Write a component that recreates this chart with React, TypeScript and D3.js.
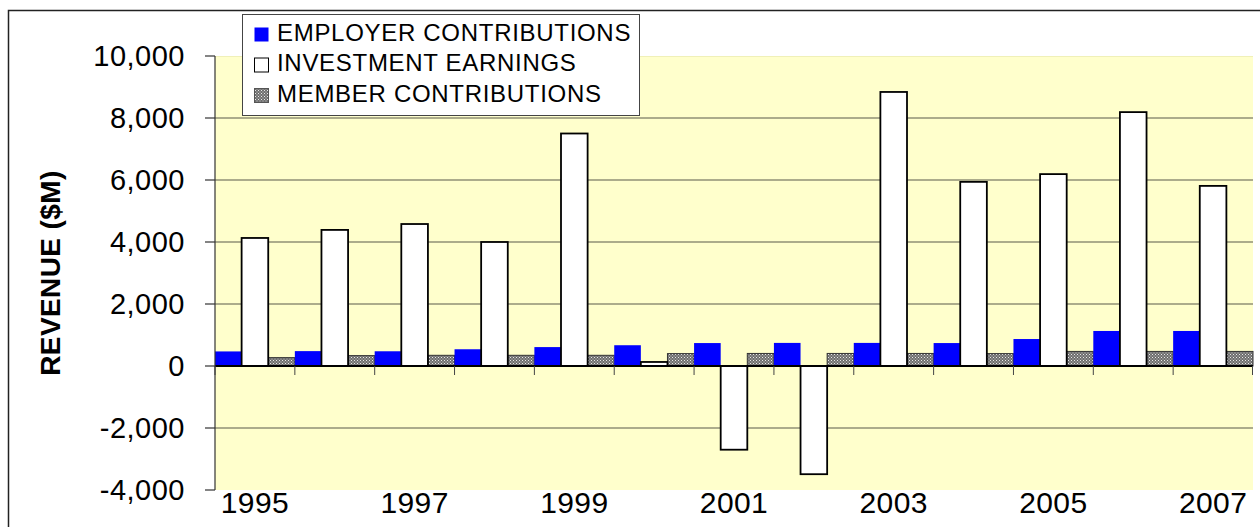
import * as d3 from "d3";

const years = ["1995", "1996", "1997", "1998", "1999", "2000", "2001", "2002", "2003", "2004", "2005", "2006", "2007"];
const employer = [470, 480, 475, 540, 610, 670, 740, 745, 745, 740, 870, 1130, 1130];
const investment = [4130, 4390, 4580, 4000, 7500, 130, -2700, -3490, 8840, 5940, 6190, 8190, 5810];
const member = [270, 335, 345, 345, 345, 400, 405, 405, 405, 400, 470, 470, 470];
const seriesNames = ["EMPLOYER CONTRIBUTIONS", "INVESTMENT EARNINGS", "MEMBER CONTRIBUTIONS"];
const yTicks = [-4000, -2000, 0, 2000, 4000, 6000, 8000, 10000];
const xLabels = ["1995", "1997", "1999", "2001", "2003", "2005", "2007"];

const W = 1260;
const H = 527;
const plot = { left: 215, right: 1253, top: 56, bottom: 490 };
const font = "'Liberation Sans', Arial, sans-serif";

const fmt = d3.formatLocale({ decimal: ".", thousands: ",", grouping: [3], currency: ["$", ""], minus: "-" }).format(",");

export default function App() {
  const x = d3.scaleBand().domain(years).range([plot.left, plot.right]).padding(0);
  const sub = d3.scaleBand().domain(["e", "i", "m"]).range([0, x.bandwidth()]).padding(0);
  const y = d3.scaleLinear().domain([-4000, 10000]).range([plot.bottom, plot.top]);
  const y0 = y(0);

  const barY = (v: number) => Math.min(y(v), y0);
  const barH = (v: number) => Math.abs(y(v) - y0);

  return (
    <svg
      width={W}
      height={H}
      style={{ position: "absolute", left: 0, top: 0, background: "#fff", display: "block" }}
      fontFamily={font}
    >
      <defs>
        <pattern id="dots" width="3" height="3" patternUnits="userSpaceOnUse">
          <rect width="3" height="3" fill="#6e6e6e" />
          <rect x="0" y="0" width="1" height="1" fill="#e8e8e8" />
          <rect x="1.5" y="1.5" width="1" height="1" fill="#d0d0d0" />
        </pattern>
      </defs>

      {/* outer chart border (only top and left are inside the picture) */}
      <path d={`M8.5,${H} V10.5 H${W}`} fill="none" stroke="#222" strokeWidth={1.5} />

      {/* plot background */}
      <rect
        x={plot.left}
        y={plot.top}
        width={plot.right - plot.left}
        height={plot.bottom - plot.top}
        fill="#ffffcc"
      />
      <line x1={plot.left} x2={plot.right} y1={plot.top + 0.5} y2={plot.top + 0.5} stroke="#f0f0b8" />

      {/* gridlines */}
      {yTicks
        .filter((t) => t !== 10000 && t !== -4000 && t !== 0)
        .map((t) => (
          <line key={t} x1={plot.left} x2={plot.right} y1={y(t)} y2={y(t)} stroke="#5a5a4a" strokeWidth={1.2} />
        ))}

      {/* bars */}
      {years.map((yr, i) => {
        const bx = x(yr) ?? 0;
        const bw = sub.bandwidth();
        return (
          <g key={yr}>
            <rect x={bx + (sub("e") ?? 0)} y={barY(employer[i])} width={bw} height={barH(employer[i])} fill="#0000ff" />
            <rect
              x={bx + (sub("m") ?? 0)}
              y={barY(member[i])}
              width={bw}
              height={barH(member[i])}
              fill="url(#dots)"
              stroke="#333"
              strokeWidth={1}
            />
            <rect
              x={bx + (sub("i") ?? 0)}
              y={barY(investment[i])}
              width={bw}
              height={barH(investment[i])}
              fill="#ffffff"
              stroke="#000"
              strokeWidth={1.8}
            />
          </g>
        );
      })}

      {/* category axis at zero */}
      <line x1={plot.left} x2={plot.right} y1={y0} y2={y0} stroke="#000" strokeWidth={1.8} />
      {years.map((yr) => (
        <line key={yr} x1={x(yr)} x2={x(yr)} y1={y0} y2={y0 + 9} stroke="#444" strokeWidth={1} />
      ))}
      <line x1={plot.right - 0.5} x2={plot.right - 0.5} y1={y0} y2={y0 + 9} stroke="#444" strokeWidth={1} />

      {/* value axis */}
      <line x1={plot.left} x2={plot.left} y1={plot.top} y2={plot.bottom} stroke="#333" strokeWidth={1.2} />
      {yTicks.map((t) => (
        <g key={t}>
          <line x1={plot.left - 10} x2={plot.left} y1={y(t)} y2={y(t)} stroke="#333" strokeWidth={1.2} />
          <text x={185} y={y(t) + 10} textAnchor="end" fontSize={29} letterSpacing={0.5} fill="#000">
            {fmt(t)}
          </text>
        </g>
      ))}

      {/* x labels */}
      {xLabels.map((l) => (
        <text key={l} x={(x(l) ?? 0) + x.bandwidth() / 2} y={513} textAnchor="middle" fontSize={30} letterSpacing={0.4} fill="#000">
          {l}
        </text>
      ))}

      {/* y title */}
      <text
        transform={`translate(60, ${(plot.top + plot.bottom) / 2}) rotate(-90)`}
        textAnchor="middle"
        fontSize={28}
        fontWeight="bold"
        letterSpacing={0.4}
        fill="#000"
      >
        REVENUE ($M)
      </text>

      {/* legend */}
      <g>
        <rect x={242.5} y={14.5} width={397} height={101} fill="#fff" stroke="#444" strokeWidth={1} />
        {seriesNames.map((s, i) => {
          const cy = 34.5 + i * 30.5;
          const fill = i === 0 ? "#0000ff" : i === 1 ? "#ffffff" : "url(#dots)";
          const stroke = i === 0 ? "none" : i === 1 ? "#000" : "#555";
          return (
            <g key={s}>
              <rect x={254.5} y={cy - 7} width={14} height={14} fill={fill} stroke={stroke} strokeWidth={1} />
              <text x={277} y={cy + 6} fontSize={24} letterSpacing={0.7} fill="#000">
                {s}
              </text>
            </g>
          );
        })}
      </g>
    </svg>
  );
}
